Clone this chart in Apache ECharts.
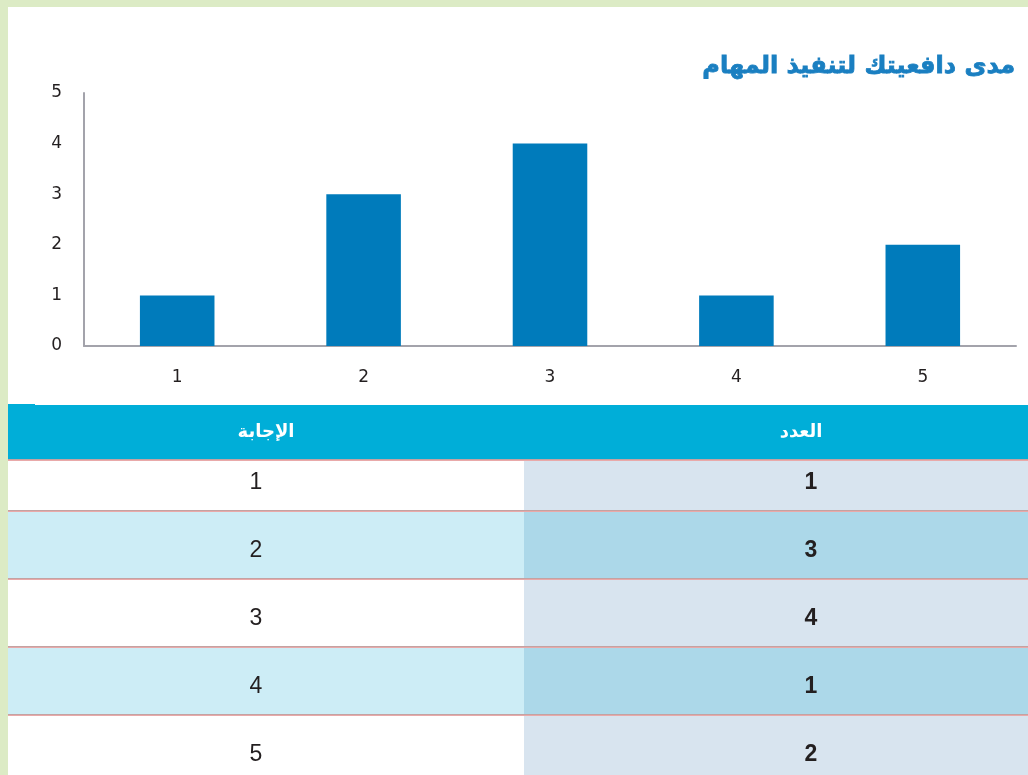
<!DOCTYPE html>
<html>
<head>
<meta charset="utf-8">
<script src="https://cdn.jsdelivr.net/npm/echarts@6/dist/echarts.min.js"></script>
<style>
  html, body { margin: 0; padding: 0; background: #ffffff; }
  #chart { width: 1028px; height: 775px; }
</style>
</head>
<body>
<div id="chart"></div>
<script>
// Answers (1..5) and how many people gave each answer
const categories = ['1', '2', '3', '4', '5'];
const counts = [1, 3, 4, 1, 2];
const yTicks = [0, 1, 2, 3, 4, 5];
const columnHeaders = ['الإجابة', 'العدد'];
const titleText = 'مدى دافعيتك لتنفيذ المهام';

// Table cells: [column, row]
const tableCells = [];
categories.forEach(function (c, r) {
  tableCells.push([0, r]);
  tableCells.push([1, r]);
});

const GREEN = '#dcebc5';
const BAR = '#007bbb';
const AXIS = '#a3a3ab';
const INK = '#231f20';
const RULE_DARK = '#c4a2a2';
const RULE_PINK = '#e9a9a9';

// Table grid: the visible window shows a little under two columns and five rows
const TABLE_W = 1020, TABLE_H = 332, COL_W = 516, ROW_H = 68;

function renderCell(params, api) {
  const col = api.value(0);
  const row = api.value(1);
  const c = api.coord([col, row]);
  const s = api.size([1, 1]);
  const x0 = c[0] - s[0] / 2;
  const y0 = c[1] - s[1] / 2;
  const odd = row % 2 === 1;
  const fill = col === 0 ? (odd ? '#cdedf6' : '#ffffff') : (odd ? '#acd8e9' : '#d8e4ef');
  const text = col === 0 ? categories[row] : String(counts[row]);
  return {
    type: 'group',
    children: [
      { type: 'rect', shape: { x: x0, y: y0, width: s[0], height: s[1] }, style: { fill: fill } },
      { type: 'rect', shape: { x: x0, y: y0 - 1, width: s[0], height: 1 }, style: { fill: RULE_DARK } },
      { type: 'rect', shape: { x: x0, y: y0, width: s[0], height: 1 }, style: { fill: RULE_PINK } },
      {
        type: 'text',
        style: {
          text: text,
          x: c[0] + (col === 0 ? -10 : 29),
          y: c[1] + 6,
          align: 'center',
          verticalAlign: 'middle',
          fill: INK,
          font: (col === 1 ? 'bold ' : '') + '23px "Liberation Sans", Arial, sans-serif'
        }
      }
    ]
  };
}

const chart = echarts.init(document.getElementById('chart'), null, { renderer: 'canvas' });
chart.setOption({
  backgroundColor: '#ffffff',
  animation: false,
  title: {
    text: titleText,
    right: 12,
    top: 55,
    padding: 0,
    textStyle: {
      color: '#1a7fc1',
      fontSize: 24,
      fontWeight: 'bold',
      fontFamily: '"DejaVu Sans", sans-serif',
      textBorderColor: '#1a7fc1',
      textBorderWidth: 0.8
    }
  },
  grid: [
    { left: 84, right: 12, top: 93, bottom: 429, containLabel: false },
    { left: 8, top: 443, width: TABLE_W, height: TABLE_H, containLabel: false }
  ],
  xAxis: [
    {
      gridIndex: 0,
      type: 'category',
      data: categories,
      axisLine: { show: true, lineStyle: { color: AXIS, width: 2 } },
      axisTick: { show: false },
      axisLabel: { color: INK, fontSize: 17, margin: 23, fontFamily: '"DejaVu Sans", sans-serif' }
    },
    {
      gridIndex: 1,
      type: 'value',
      min: -0.5,
      max: -0.5 + TABLE_W / COL_W,
      show: false
    }
  ],
  yAxis: [
    {
      gridIndex: 0,
      type: 'value',
      min: 0,
      max: 5,
      interval: 1,
      data: yTicks,
      axisLine: { show: true, lineStyle: { color: AXIS, width: 2 } },
      axisTick: { show: false },
      splitLine: { show: false },
      axisLabel: { color: INK, fontSize: 17, margin: 22, fontFamily: '"DejaVu Sans", sans-serif' }
    },
    {
      gridIndex: 1,
      type: 'value',
      min: -0.5,
      max: -0.5 + TABLE_H / ROW_H,
      inverse: true,
      show: false
    }
  ],
  series: [
    {
      type: 'bar',
      xAxisIndex: 0,
      yAxisIndex: 0,
      data: counts,
      barWidth: '40%',
      itemStyle: { color: BAR }
    },
    {
      type: 'custom',
      xAxisIndex: 1,
      yAxisIndex: 1,
      data: tableCells,
      renderItem: renderCell,
      clip: false
    }
  ],
  graphic: [
    // table header band
    { type: 'rect', z: 100, shape: { x: 8, y: 405, width: 1020, height: 54 }, style: { fill: '#00aed8' } },
    { type: 'rect', z: 100, shape: { x: 8, y: 404, width: 27, height: 1 }, style: { fill: '#00aed8' } },
    { type: 'rect', z: 100, shape: { x: 8, y: 459, width: 1020, height: 1 }, style: { fill: RULE_DARK } },
    { type: 'rect', z: 100, shape: { x: 8, y: 460, width: 1020, height: 1 }, style: { fill: RULE_PINK } },
    {
      type: 'text', z: 101,
      style: { text: columnHeaders[0], x: 266, y: 432, align: 'center', verticalAlign: 'middle',
               fill: '#ffffff', font: 'bold 18px "DejaVu Sans", sans-serif' }
    },
    {
      type: 'text', z: 101,
      style: { text: columnHeaders[1], x: 801, y: 432, align: 'center', verticalAlign: 'middle',
               fill: '#ffffff', font: 'bold 18px "DejaVu Sans", sans-serif' }
    },
    // page frame
    { type: 'rect', z: 110, shape: { x: 0, y: 0, width: 1028, height: 7 }, style: { fill: GREEN } },
    { type: 'rect', z: 110, shape: { x: 0, y: 0, width: 8, height: 775 }, style: { fill: GREEN } }
  ]
});
</script>
</body>
</html>
